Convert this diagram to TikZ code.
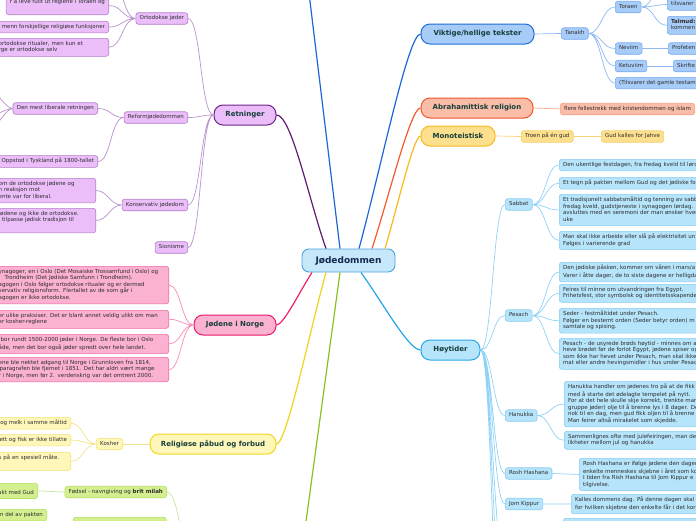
\documentclass[tikz,border=0pt]{standalone}
\usepackage{fontspec}
\setmainfont{DejaVu Sans}
\usetikzlibrary{calc}
\definecolor{txt}{HTML}{2E2E2E}
\definecolor{ttxt}{HTML}{173F3B}
\definecolor{ctxt}{HTML}{14294D}
\definecolor{cfill}{HTML}{C6E8FA}
\definecolor{cbord}{HTML}{4CA2DC}
\definecolor{pufill}{HTML}{EBBEFA}
\definecolor{pubord}{HTML}{6E2486}
\definecolor{puline}{HTML}{5E1B73}
\definecolor{pusub}{HTML}{B27DC7}
\definecolor{pusubl}{HTML}{BA93CC}
\definecolor{pifill}{HTML}{FBB1D0}
\definecolor{pibord}{HTML}{EA1A6E}
\definecolor{piline}{HTML}{EF1F6E}
\definecolor{pisub}{HTML}{F06AA6}
\definecolor{pisubl}{HTML}{F58CBA}
\definecolor{yefill}{HTML}{FFF7BA}
\definecolor{yebord}{HTML}{F1D61C}
\definecolor{yeline}{HTML}{EFD41C}
\definecolor{yesub}{HTML}{F4E37C}
\definecolor{yesubl}{HTML}{F4E38A}
\definecolor{grfill}{HTML}{D3EF90}
\definecolor{grsub}{HTML}{B9DF62}
\definecolor{grline}{HTML}{86C220}
\definecolor{grsubl}{HTML}{C8E69C}
\definecolor{blfill}{HTML}{A8CCF8}
\definecolor{blbord}{HTML}{1D6ED8}
\definecolor{blline}{HTML}{1C67D6}
\definecolor{blsub}{HTML}{76AAF0}
\definecolor{blsubl}{HTML}{8DB9F2}
\definecolor{orfill}{HTML}{F9BDA8}
\definecolor{orbord}{HTML}{F2552B}
\definecolor{orline}{HTML}{F45A2C}
\definecolor{orsub}{HTML}{F5A189}
\definecolor{orsubl}{HTML}{F8AB93}
\definecolor{gofill}{HTML}{FDE08E}
\definecolor{gobord}{HTML}{F8B91D}
\definecolor{goline}{HTML}{F9B91C}
\definecolor{gosub}{HTML}{F7D071}
\definecolor{gosubl}{HTML}{F9D37C}
\definecolor{cyfill}{HTML}{B6E4FA}
\definecolor{cybord}{HTML}{28A8E6}
\definecolor{cyline}{HTML}{21A6E6}
\definecolor{cysub}{HTML}{88CDF0}
\definecolor{cysubl}{HTML}{90D3F6}
\newcommand\smallsz{\fontsize{5.5}{6.5}\selectfont}
\begin{document}
\begin{tikzpicture}[x=1pt,y=-1pt,
  subbox/.style={draw, rounded corners=2.5pt, line width=0.6pt, inner xsep=3.8pt, inner ysep=2.5pt,
    font=\smallsz, text=txt, align=left, execute at begin node=\strut, execute at end node=\strut},
  topic/.style={draw, rounded corners=9pt, line width=1pt, minimum height=20pt, inner sep=0pt,
    font=\bfseries\fontsize{7}{8}\selectfont, text=ttxt},
  central/.style={draw=cbord, fill=cfill, rounded corners=7pt, line width=0.9pt, minimum width=93pt,
    minimum height=23pt, inner sep=0pt, font=\bfseries\fontsize{9}{10}\selectfont, text=ctxt},
  cn/.style={line width=1.2pt},
  sn/.style={line width=0.7pt},
  pus/.style={subbox, fill=pufill, draw=pusub},
  pis/.style={subbox, fill=pifill, draw=pisub},
  yes/.style={subbox, fill=yefill, draw=yesub},
  grs/.style={subbox, fill=grfill, draw=grsub},
  bls/.style={subbox, fill=blfill, draw=blsub},
  ors/.style={subbox, fill=orfill, draw=orsub},
  gos/.style={subbox, fill=gofill, draw=gosub},
  cys/.style={subbox, fill=cyfill, draw=cysub},
  scl/.style={to path={.. controls +(-#1,0) and +(#1,0) .. (\tikztotarget)}},
  scr/.style={to path={.. controls +(#1,0) and +(-#1,0) .. (\tikztotarget)}}
]
\useasboundingbox (0,0) rectangle (696,520);
\clip (0,0) rectangle (696,520);

% central and topics
\node[central] (cent) at (348.5,260.5) {Jødedommen};
\node[topic, fill=pufill, draw=pubord, minimum width=62pt] (ret) at (245,115) {Retninger};
\node[topic, fill=blfill, draw=blbord, minimum width=113pt] (vik) at (477.5,34) {Viktige/hellige tekster};
\node[topic, fill=orfill, draw=orbord, minimum width=112pt] (abr) at (477,108) {Abrahamittisk religion};
\node[topic, fill=gofill, draw=gobord, minimum width=74pt] (mon) at (458,136) {Monoteistisk};
\node[topic, fill=cyfill, draw=cybord, minimum width=59pt] (hoy) at (450.5,350) {Høytider};
\node[topic, fill=pifill, draw=pibord, minimum width=82pt] (nor) at (235,325) {Jødene i Norge};
\node[topic, fill=yefill, draw=yebord, minimum width=126pt] (pab) at (213,444) {Religiøse påbud og forbud};
\coordinate (topx) at (305,-40);
\coordinate (gtop) at (298,580);

% Retninger branch
\node[pus, anchor=east] (ort) at (188,18.5) {Ortodokse jøder};
\node[pus, anchor=east] (rfm) at (188,117.5) {Reformjødedommen};
\node[pus, anchor=east] (kon) at (188,205) {Konservativ jødedom};
\node[pus, anchor=east] (sio) at (188,247.5) {Sionisme};
\coordinate (o0) at (109,-25);
\node[pus, anchor=south east] (o1) at (109,15) {r å leve fullt ut reglene i Toraen og\\};
\node[pus, anchor=north east] (o2) at (109,21) {menn forskjellige religiøse funksjoner};
\node[pus, anchor=north east, text width=106.2pt] (o3) at (109,38) {ortodokse ritualer, men kun et\\rge er ortodokse selv};
\node[pus, anchor=east] (dml) at (98,108.5) {Den mest liberale retningen};
\node[pus, anchor=east] (opp) at (98,161.5) {Oppstod i Tyskland på 1800-tallet};
\coordinate (d1) at (-15,85);
\coordinate (d2) at (-15,118);
\coordinate (d3) at (-15,135);
\node[pus, anchor=north east, text width=93.2pt] (k1) at (96,178) {om de ortodokse jødene og\\n reaksjon mot\\ente var for liberal.};
\node[pus, anchor=north east, text width=93.2pt] (k2) at (96,208) {jødene og ikke de ortodokse.\\i tilpasse jødisk tradisjon til\\\mbox{}};

% Jødene i Norge branch
\node[pis, anchor=north east, text width=166.2pt] (n1) at (169,266) {ynagoger, en i Oslo (Det Mosaiske Trossamfund i Oslo) og\\\hspace*{6pt}Trondheim (Det Jødiske Samfunn i Trondheim).\\agogen i Oslo følger ortodokse ritualer og er dermed\\servativ religionsform. Flertallet av de som går i\\agogen er ikke ortodokse.};
\node[pis, anchor=north east, text width=166.2pt] (n2) at (169,310) {er ulike praksiser. Det er blant annet veldig ulikt om man\\er kosher-reglene};
\node[pis, anchor=north east, text width=166.2pt] (n3) at (169,334) {\hspace*{2pt}bor rundt 1500-2000 jøder i Norge. De fleste bor i Oslo\\åde, men det bor også jøder spredt over hele landet.};
\node[pis, anchor=north east, text width=166.2pt] (n4) at (169,357) {ene ble nektet adgang til Norge i Grunnloven fra 1814,\\\hspace*{1pt}paragrafen ble fjernet i 1851. Det har aldri vært mange\\r i Norge, men før 2. verdenskrig var det omtrent 2000.};

% Religiøse påbud branch
\node[yes, anchor=east] (kos) at (123,444) {Kosher};
\node[yes, anchor=north east] (r1) at (71,417) {og melk i samme måltid};
\node[yes, anchor=north east] (r2) at (71,434) {ett og fisk er ikke tillatte};
\node[yes, anchor=north east, text width=68.2pt] (r3) at (71,452) {s på en spesiell måte.\\\mbox{}};

% green branch
\node[grs, anchor=east] (fod) at (167,492) {Fødsel - navngiving og \textbf{brit milah}};
\node[grs, anchor=north east] (g1) at (38,483) {-\\akt med Gud};
\node[grs, anchor=north east] (g2) at (47,509) {n del av pakten};
\node[grs, anchor=north west, minimum width=93pt] (g3) at (73,517) {};
\coordinate (gpar) at (197,580);

% Viktige tekster branch
\node[bls, anchor=west] (tan) at (561,33.5) {Tanakh};
\node[bls, anchor=west] (tor) at (615,7) {Toraen};
\node[bls, anchor=west] (nev) at (615,48.5) {Neviim};
\node[bls, anchor=west] (ket) at (615,66) {Ketuviim};
\node[bls, anchor=north west, text width=120pt] (tls) at (615,77) {(Tilsvarer det gamle testam};
\node[bls, anchor=north west, text width=60pt] (tsv) at (667,-1.5) {tilsvarer};
\node[bls, anchor=north west, text width=60pt] (tal) at (667,16) {\textbf{Talmud:}\\kommen};
\node[bls, anchor=west, text width=60pt] (pro) at (668,48.5) {Profeten};
\node[bls, anchor=west, text width=60pt] (skr) at (673,66) {Skrifte};
\coordinate (t0) at (667,-22);

% Abrahamittisk, Monoteistisk
\node[ors, anchor=west] (fle) at (560,109) {flere fellestrekk med kristendommen og islam};
\node[gos, anchor=west] (tro) at (521,136.5) {Troen på én gud};
\node[gos, anchor=west] (gud) at (601,136.5) {Gud kalles for Jahve};

% Høytider branch
\node[cys, anchor=west] (sab) at (505,204.5) {Sabbat};
\node[cys, anchor=west] (pes) at (505,315.5) {Pesach};
\node[cys, anchor=west] (han) at (505,415.5) {Hanukka};
\node[cys, anchor=west] (ros) at (505,473.5) {Rosh Hashana};
\node[cys, anchor=west] (jom) at (505,504) {Jom Kippur};
\coordinate (hx1) at (505,560);
\coordinate (hx2) at (505,620);
\coordinate (hx3) at (505,700);
\node[cys, anchor=north west, text width=200pt] (s1) at (559,159) {Den ukentlige festdagen, fra fredag kveld til lørd};
\node[cys, anchor=north west, text width=200pt] (s2) at (559,177) {Et tegn på pakten mellom Gud og det jødiske fo};
\node[cys, anchor=north west, text width=200pt] (s3) at (559,194) {Et tradisjonelt sabbatsmåltid og tenning av sabb\\fredag kveld, gudstjeneste i synagogen lørdag.\\avsluttes med en seremoni der man ønsker hver\\uke};
\node[cys, anchor=north west, text width=200pt] (s4) at (559,231) {Man skal ikke arbeide eller slå på elektrisitet un\\Følges i varierende grad};
\node[cys, anchor=north west, text width=200pt] (p1) at (559,262) {Den jødiske påsken, kommer om våren i mars/a\\Varer i åtte dager, de to siste dagene er helligda};
\node[cys, anchor=north west, text width=200pt] (p2) at (559,284) {Feires til minne om utvandringen fra Egypt.\\Frihetsfest, stor symbolsk og identitetsskapende};
\node[cys, anchor=north west, text width=200pt] (p3) at (559,308) {Seder - festmåltidet under Pesach.\\Følger en bestemt orden (Seder betyr orden) m\\samtale og spising.};
\node[cys, anchor=north west, text width=200pt] (p4) at (559,338) {Pesach - de usyrede brøds høytid - minnes om a\\heve brødet før de forlot Egypt, jødene spiser og\\som ikke har hevet under Pesach, man skal ikke\\mat eller andre hevingsmidler i hus under Pesac};
\node[cys, anchor=north west, text width=200pt] (h1) at (564,381) {Hanukka handler om jødenes tro på at de fikk\\med å starte det ødelagte tempelet på nytt.\\For at det hele skulle skje korrekt, trenkte man\\gruppe jøder) olje til å brenne lys i 8 dager. De\\nok til en dag, men gud fikk oljen til å brenne i\\Man feirer altså mirakelet som skjedde.};
\node[cys, anchor=north west, text width=200pt] (h2) at (564,431) {Sammenlignes ofte med julefeiringen, man der\\likheter mellom jul og hanukka};
\node[cys, anchor=north west, text width=200pt] (ro1) at (579,458) {Rosh Hashana er ifølge jødene den dager\\enkelte menneskes skjebne i året som ko\\I tiden fra Rish Hashana til Jom Kippur e\\tilgivelse.};
\node[cys, anchor=north west, text width=200pt] (jo1) at (571,494) {Kalles dommens dag. På denne dagen skal\\for hvilken skjebne den enkelte får i det kor};
\node[cys, anchor=north west, text width=200pt] (bx) at (563,518) {};

% main connectors
\draw[cn, puline] ($(cent.north)+(-22.5,0)$) .. controls +(-17.5,-50) and +(15,0) .. (ret.east);
\draw[cn, blline] ($(cent.north)+(-8.5,0)$) -- (topx);
\draw[cn, blline] ($(cent.north)+(10.5,0)$) .. controls +(21.7,-79.5) and +(-12.4,0) .. (vik.west);
\draw[cn, orline] ($(cent.north)+(23.5,0)$) .. controls +(17,-52) and +(-10,0) .. (abr.west);
\draw[cn, goline] ($(cent.north)+(36.5,0)$) .. controls +(12.6,-42) and +(-7,0) .. (mon.west);
\draw[cn, piline] ($(cent.south)+(-36.5,0)$) .. controls +(-12.6,19.6) and +(7,0) .. (nor.east);
\draw[cn, yeline] ($(cent.south)+(-22.5,0)$) .. controls +(-17.5,63.6) and +(10,0) .. (pab.east);
\draw[cn, grline] ($(cent.south)+(-8.5,0)$) -- (gtop);
\draw[cn, cyline] ($(cent.south)+(12.5,0)$) .. controls +(21,29) and +(-12,0) .. (hoy.west);

% sub connectors
\draw[sn, pusubl] (ret.west) to[scl=13] (ort.east) (ret.west) to[scl=13] (rfm.east)
  (ret.west) to[scl=13] (kon.east) (ret.west) to[scl=13] (sio.east);
\draw[sn, pusubl] (ort.west) to[scl=13] (o0) (ort.west) to[scl=13] (o1.east)
  (ort.west) to[scl=13] (o2.east) (ort.west) to[scl=13] (o3.east);
\draw[sn, pusubl] (rfm.west) to[scl=13] (dml.east) (rfm.west) to[scl=13] (opp.east);
\draw[sn, pusubl] (dml.west) to[scl=8] (d1) (dml.west) to[scl=8] (d2) (dml.west) to[scl=8] (d3);
\draw[sn, pusubl] (kon.west) to[scl=12] (k1.east) (kon.west) to[scl=12] (k2.east);
\draw[sn, pisubl] (nor.west) to[scl=12] (n1.east) (nor.west) to[scl=12] (n2.east)
  (nor.west) to[scl=12] (n3.east) (nor.west) to[scl=12] (n4.east);
\draw[sn, yesubl] (pab.west) -- (kos.east);
\draw[sn, yesubl] (kos.west) to[scl=12] (r1.east) (kos.west) to[scl=12] (r2.east) (kos.west) to[scl=12] (r3.east);
\draw[sn, grsubl] (g1.east) -- (fod.west);
\draw[sn, grsubl] (fod.east) to[scr=14] (gpar);
\draw[sn, blsubl] (vik.east) -- (tan.west);
\draw[sn, blsubl] (tan.east) to[scr=13] (tor.west) (tan.east) to[scr=13] (nev.west)
  (tan.east) to[scr=13] (ket.west) (tan.east) to[scr=13] (tls.west);
\draw[sn, blsubl] (tor.east) to[scr=13] (t0) (tor.east) to[scr=13] (tsv.west) (tor.east) to[scr=13] (tal.west);
\draw[sn, blsubl] (nev.east) -- (pro.west);
\draw[sn, blsubl] (ket.east) -- (skr.west);
\draw[sn, orsubl] (abr.east) -- (fle.west);
\draw[sn, gosubl] (mon.east) -- (tro.west);
\draw[sn, gosubl] (tro.east) -- (gud.west);
\draw[sn, cysubl] (hoy.east) to[scr=12] (sab.west) (hoy.east) to[scr=12] (pes.west)
  (hoy.east) to[scr=12] (han.west) (hoy.east) to[scr=12] (ros.west) (hoy.east) to[scr=12] (jom.west)
  (hoy.east) to[scr=12] (hx1) (hoy.east) to[scr=12] (hx2) (hoy.east) to[scr=12] (hx3);
\draw[sn, cysubl] (sab.east) to[scr=13] (s1.west) (sab.east) to[scr=13] (s2.west)
  (sab.east) to[scr=13] (s3.west) (sab.east) to[scr=13] (s4.west);
\draw[sn, cysubl] (pes.east) to[scr=13] (p1.west) (pes.east) to[scr=13] (p2.west)
  (pes.east) to[scr=13] (p3.west) (pes.east) to[scr=13] (p4.west);
\draw[sn, cysubl] (han.east) to[scr=13] (h1.west) (han.east) to[scr=13] (h2.west);
\draw[sn, cysubl] (ros.east) to[scr=13] (ro1.west);
\draw[sn, cysubl] (jom.east) to[scr=13] (jo1.west);
\end{tikzpicture}
\end{document}
